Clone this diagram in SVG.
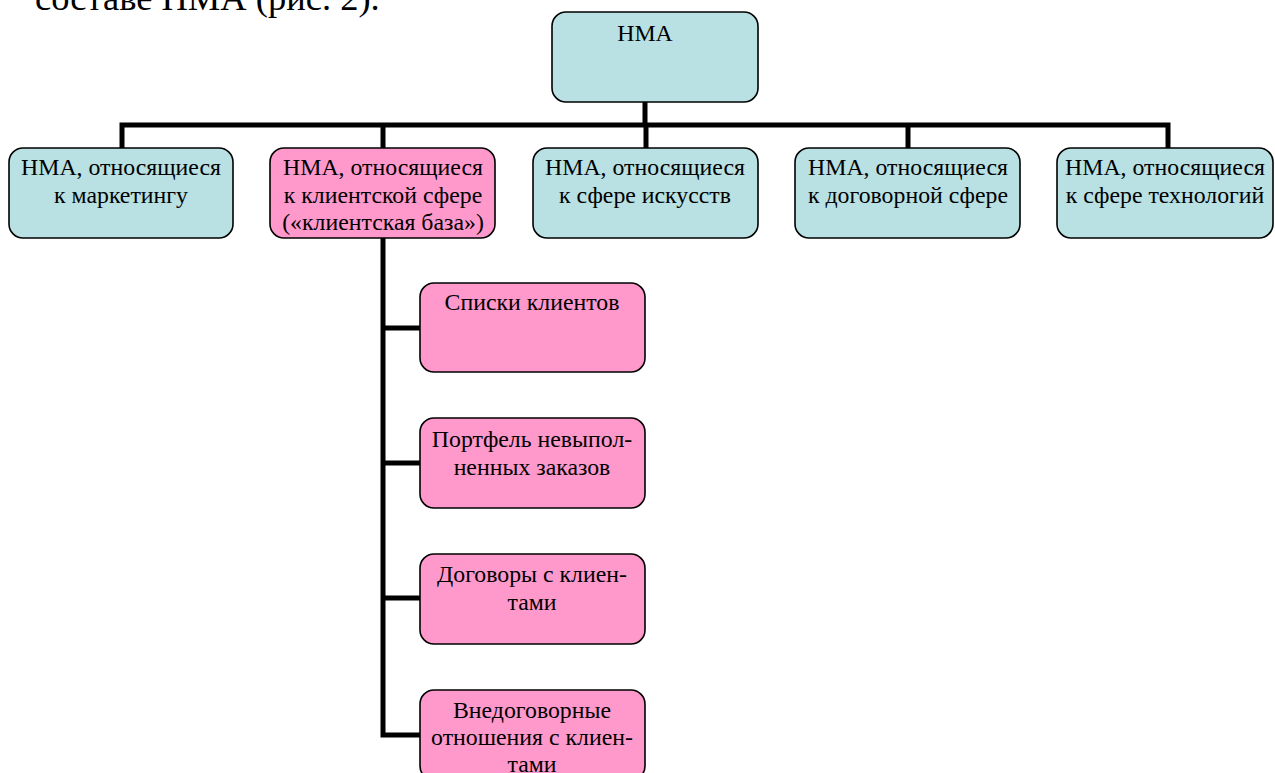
<svg xmlns="http://www.w3.org/2000/svg" width="1275" height="773" viewBox="0 0 1275 773">
<style>
.teal{fill:#b9e0e3;stroke:#000;stroke-width:1.6}
.pink{fill:#ff99cc;stroke:#000;stroke-width:1.6}
.t{font-family:"Liberation Serif","Times New Roman",serif;font-size:23.8px;fill:#000;text-anchor:middle}
.page{font-family:"Liberation Serif","Times New Roman",serif;font-size:36.5px;fill:#000}
.c{fill:none;stroke:#000;stroke-width:5}
</style>
<rect width="1275" height="773" fill="#fff"/>
<text class="page" x="35" y="10">составе НМА (рис. 2).</text>
<g id="connectors">
<path class="c" d="M645 102V125M122 148V125H1168V148M383 125V148M646 125V148M908 125V148"/>
<path class="c" d="M383 238V735H420M383 328H420M383 463H420M383 598H420"/>
</g>
<g id="root"><rect class="teal" x="552" y="12" width="206" height="90" rx="14"/><text class="t" x="645" y="41">НМА</text></g>
<g id="n1"><rect class="teal" x="9" y="148" width="224" height="90" rx="14"/><text class="t" x="121" y="175">НМА, относящиеся</text><text class="t" x="121" y="203">к маркетингу</text></g>
<g id="n2"><rect class="pink" x="270" y="148" width="225" height="90" rx="14"/><text class="t" x="383" y="175">НМА, относящиеся</text><text class="t" x="383" y="203">к клиентской сфере</text><text class="t" x="383" y="230">(«клиентская база»)</text></g>
<g id="n3"><rect class="teal" x="533" y="148" width="225" height="90" rx="14"/><text class="t" x="645" y="175">НМА, относящиеся</text><text class="t" x="645" y="203">к сфере искусств</text></g>
<g id="n4"><rect class="teal" x="795" y="148" width="225" height="90" rx="14"/><text class="t" x="908" y="175">НМА, относящиеся</text><text class="t" x="908" y="203">к договорной сфере</text></g>
<g id="n5"><rect class="teal" x="1057" y="148" width="216" height="90" rx="14"/><text class="t" x="1165" y="175">НМА, относящиеся</text><text class="t" x="1165" y="203">к сфере технологий</text></g>
<g id="c1"><rect class="pink" x="420" y="283" width="225" height="89" rx="14"/><text class="t" x="532" y="310">Списки клиентов</text></g>
<g id="c2"><rect class="pink" x="420" y="418" width="225" height="90" rx="14"/><text class="t" x="532" y="447">Портфель невыпол-</text><text class="t" x="532" y="475">ненных заказов</text></g>
<g id="c3"><rect class="pink" x="420" y="554" width="225" height="90" rx="14"/><text class="t" x="532" y="582">Договоры с клиен-</text><text class="t" x="532" y="610">тами</text></g>
<g id="c4"><rect class="pink" x="420" y="690" width="225" height="90" rx="14"/><text class="t" x="532" y="718">Внедоговорные</text><text class="t" x="532" y="745">отношения с клиен-</text><text class="t" x="532" y="772">тами</text></g>
</svg>
